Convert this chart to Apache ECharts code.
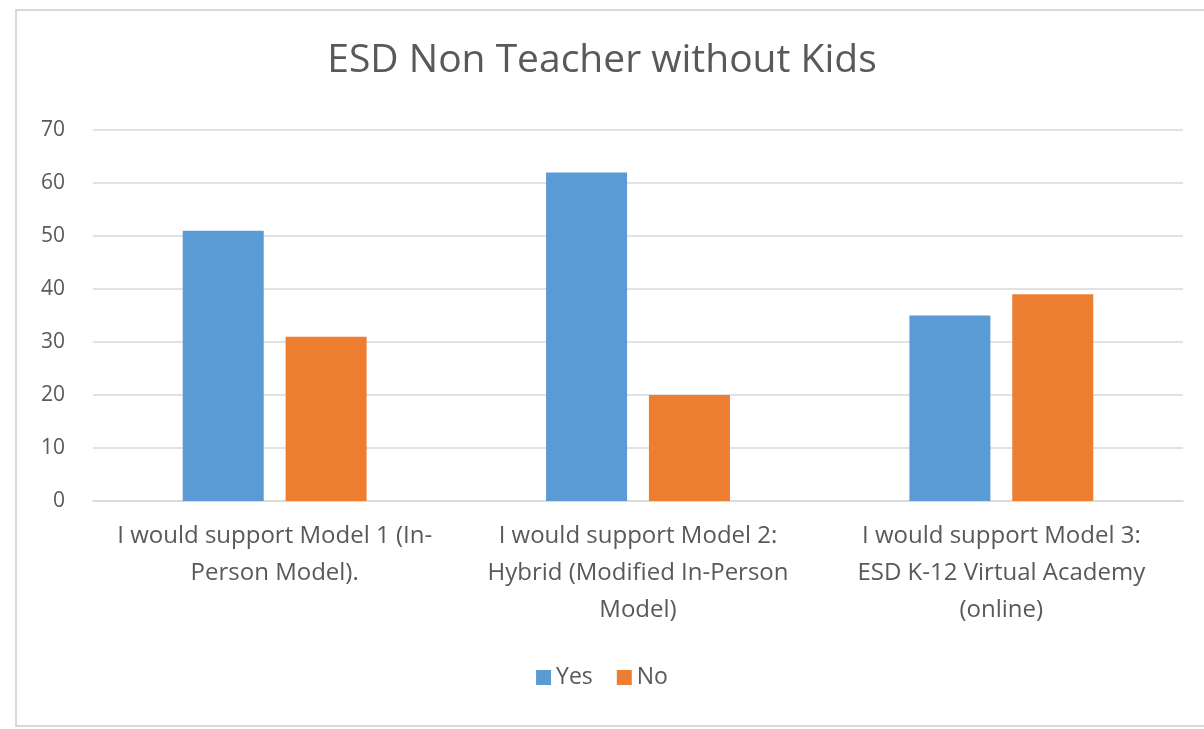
<!DOCTYPE html>
<html><head><meta charset="utf-8">
<script src="https://cdn.jsdelivr.net/npm/echarts@6/dist/echarts.min.js"></script>
<style>html,body{margin:0;padding:0;background:#fff}#c{width:1204px;height:729px}</style>
</head><body><div id="c"></div>
<script>
const title = "ESD Non Teacher without Kids";
const categories = [
  "I would support Model 1 (In-\nPerson Model).",
  "I would support Model 2:\nHybrid (Modified In-Person\nModel)",
  "I would support Model 3:\nESD K-12 Virtual Academy\n(online)"
];
const yesValues = [51, 62, 35];
const noValues = [31, 20, 39];
const yTicks = {min: 0, max: 70, interval: 10};

const font = "'Open Sans', Lato, sans-serif";
const chart = echarts.init(document.getElementById('c'), null, {renderer: 'canvas'});
chart.setOption({
  backgroundColor: '#fff',
  animation: false,
  title: {
    text: title, left: 'center', top: 36,
    textStyle: {fontFamily: font, fontSize: 39, fontWeight: 'normal', color: '#595959'}
  },
  legend: {
    bottom: 35, left: 'center', itemWidth: 15, itemHeight: 15, itemGap: 24,
    icon: 'rect',
    textStyle: {fontFamily: font, fontSize: 23, color: '#595959'},
    data: ['Yes', 'No']
  },
  grid: {left: 93, right: 21, top: 130, bottom: 228, containLabel: false},
  xAxis: {
    type: 'category', data: categories,
    axisLine: {lineStyle: {color: '#d9d9d9', width: 1.5}},
    axisTick: {show: false},
    axisLabel: {fontFamily: font, fontSize: 24, color: '#595959', lineHeight: 37, margin: 17, interval: 0}
  },
  yAxis: {
    type: 'value', min: yTicks.min, max: yTicks.max, interval: yTicks.interval,
    axisLine: {show: false}, axisTick: {show: false},
    splitLine: {lineStyle: {color: '#d9d9d9', width: 1.5}},
    axisLabel: {fontFamily: font, fontSize: 21, color: '#595959', margin: 28}
  },
  series: [
    {name: 'Yes', type: 'bar', data: yesValues, barWidth: 81, barGap: '27%', itemStyle: {color: '#5b9bd5'}},
    {name: 'No', type: 'bar', data: noValues, barWidth: 81, itemStyle: {color: '#ed7d31'}}
  ],
  graphic: [
    {type: 'rect', shape: {x: 16, y: 10, width: 1200, height: 716}, style: {fill: 'none', stroke: '#d9d9d9', lineWidth: 2}, silent: true}
  ]
});
</script></body></html>
